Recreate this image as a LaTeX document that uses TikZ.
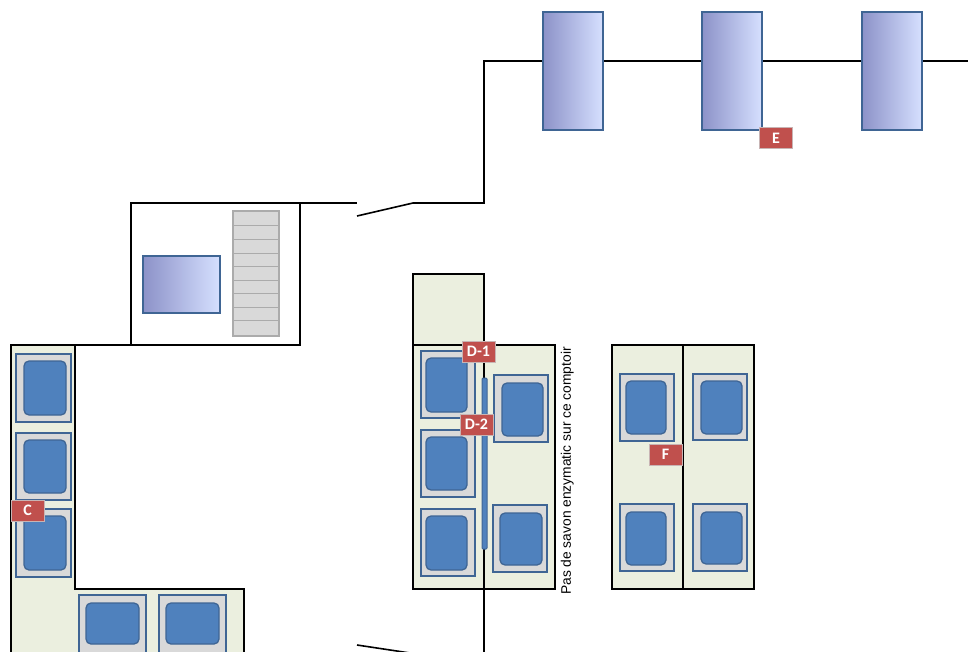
\documentclass[tikz,border=0pt]{standalone}
\usepackage{fontspec}
\setmainfont{Liberation Sans}
\newfontfamily\lblfont{Carlito}
\definecolor{zone}{HTML}{EBEFDF}
\definecolor{sinkgray}{HTML}{D9D9D9}
\definecolor{bluefill}{HTML}{4F81BD}
\definecolor{blueline}{HTML}{3F6594}
\definecolor{gradL}{HTML}{8C92C8}
\definecolor{gradR}{HTML}{D6E0FF}
\definecolor{tagred}{HTML}{C0504D}
\definecolor{taglin}{HTML}{C8B4B4}
\definecolor{stairline}{HTML}{ABABAB}
\tikzset{
  x=1pt,y=-1pt,
  wall/.style={draw=black,line width=1.6pt,line cap=butt,line join=miter},
  zonefill/.style={fill=zone},
  sinkouter/.style={draw=blueline,fill=sinkgray,line width=1.3pt},
  sinkinner/.style={draw=blueline,fill=bluefill,line width=1.3pt,rounded corners=5pt},
  tank/.style={draw=blueline,line width=1.3pt,left color=gradL,right color=gradR},
  tag/.style={fill=tagred,draw=taglin,line width=0.8pt,text=white,font=\lblfont\bfseries\fontsize{16}{16}\selectfont,inner sep=0pt,anchor=center,minimum width=33pt,minimum height=21pt},
  note/.style={font=\fontsize{13.8}{15}\selectfont,rotate=90,inner sep=0pt,anchor=center},
}
\newcommand{\sinkunit}[8]{%
  \draw[sinkouter] (#1,#2) rectangle (#3,#4);
  \draw[sinkinner] (#5,#6) rectangle (#7,#8);}
\begin{document}
\begin{tikzpicture}
\useasboundingbox (0,0) rectangle (968,652);
\clip (0,0) rectangle (968,652);
% zones
\fill[zonefill] (11,345) -- (75,345) -- (75,589) -- (244,589) -- (244,652) -- (11,652) -- cycle;
\fill[zonefill] (413,274) -- (484,274) -- (484,345) -- (555,345) -- (555,589) -- (413,589) -- cycle;
\fill[zonefill] (612,345) rectangle (754,589);
% walls
\draw[wall] (11,652) -- (11,345) -- (75,345) -- (75,589) -- (244,589) -- (244,652);
\draw[wall] (75,345) -- (300,345) -- (300,203);
\draw[wall] (131,345) -- (131,203) -- (357,203);
\draw[wall] (357,216) -- (413,203) -- (484,203) -- (484,61) -- (968,61);
\draw[wall] (357,645) -- (410,653);
\draw[wall] (413,345) -- (413,274) -- (484,274) -- (484,345);
\draw[wall] (413,345) rectangle (555,589);
\draw[wall] (484,345) -- (484,652);
\draw[wall] (612,345) rectangle (754,589);
\draw[wall] (683,345) -- (683,589);
% tanks
\draw[tank] (543,12) rectangle (603,130);
\draw[tank] (702,12) rectangle (762,130);
\draw[tank] (862,12) rectangle (922,130);
\draw[tank] (143,256) rectangle (220,313);
% stairs
\draw[fill=sinkgray,draw=stairline,line width=1.3pt] (233,211) rectangle (279,336);
\foreach \yy in {225,239,253,266,280,293,307,320}
  \draw[stairline,line width=0.9pt] (233,\yy) -- (279,\yy);
% sinks
\sinkunit{16}{354}{71}{422}{24}{361}{66}{415}
\sinkunit{16}{433}{71}{500}{24}{440}{66}{493}
\sinkunit{16}{509}{71}{577}{24}{516}{66}{570}
\sinkunit{79}{595}{146}{660}{86}{603}{139}{644}
\sinkunit{159}{595}{226}{660}{166}{603}{219}{644}
\sinkunit{421}{351}{475}{418}{426}{358}{467}{412}
\sinkunit{421}{430}{475}{497}{426}{437}{467}{490}
\sinkunit{421}{509}{475}{576}{426}{516}{467}{570}
\sinkunit{494}{375}{548}{442}{502}{383}{543}{436}
\sinkunit{493}{505}{547}{572}{500}{513}{542}{565}
\sinkunit{620}{374}{674}{441}{626}{381}{666}{434}
\sinkunit{693}{374}{747}{440}{701}{381}{742}{434}
\sinkunit{620}{504}{674}{571}{626}{512}{666}{565}
\sinkunit{693}{504}{747}{571}{701}{512}{742}{564}
% splash bar
\draw[draw=blueline,fill=bluefill,line width=1pt,rounded corners=1pt] (482,378) rectangle (487,549);
% tags
\node[tag] (tagC) at (27.5,510.5) {C};
\node[tag] (tagD1) at (478.5,351.5) {D-1};
\node[tag] (tagD2) at (476.5,424.5) {D-2};
\node[tag] (tagE) at (776,138) {E};
\node[tag] (tagF) at (665.5,454.5) {F};
% note
\node[note] (noteSavon) at (567.3,471) {Pas de savon enzymatic sur ce comptoir};
\end{tikzpicture}
\end{document}
